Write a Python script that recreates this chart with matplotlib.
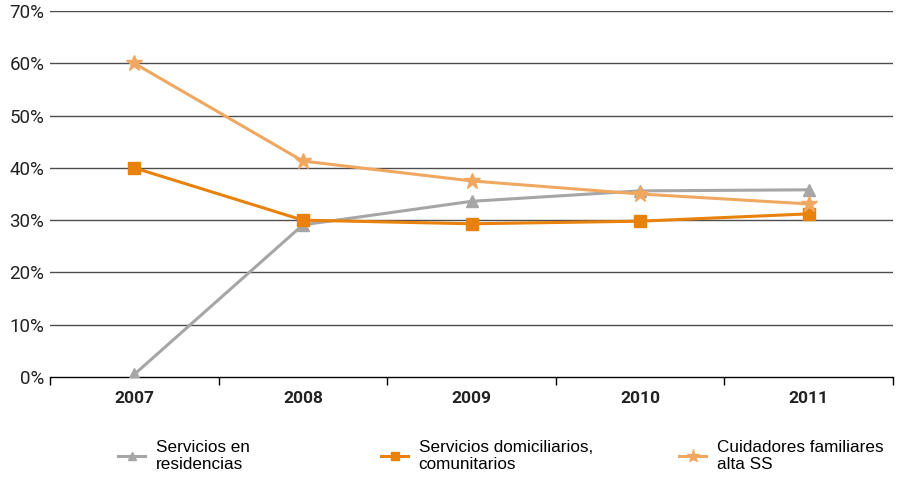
import matplotlib
matplotlib.use("Agg")
import matplotlib.pyplot as plt
from matplotlib.lines import Line2D

plt.rcParams['font.family'] = ['Roboto', 'DejaVu Sans']

years = ['2007', '2008', '2009', '2010', '2011']
residencias = [0.5, 29.1, 33.6, 35.6, 35.8]
domicilarios = [40.0, 30.0, 29.3, 29.8, 31.2]
cuidadores = [60.0, 41.3, 37.5, 35.0, 33.1]

labels = ['Servicios en\nresidencias', 'Servicios domiciliarios,\ncomunitarios',
          'Cuidadores familiares\nalta SS']
colors = ['#a6a6a6', '#e8820c', '#f0a860']
markers = ['^', 's', '*']
msizes = [8, 8, 12]

fig = plt.figure(figsize=(8.99, 4.79), dpi=100)
ax = fig.add_axes([50 / 899, 102 / 479, 843 / 899, 366 / 479])

x = list(range(len(years)))
for vals, c, m, ms in zip([residencias, domicilarios, cuidadores], colors, markers, msizes):
    ax.plot(x, vals, color=c, lw=2.2, marker=m, ms=ms, mec=c, mfc=c, zorder=3)

ax.set_xlim(-0.5, 4.5)
ax.set_ylim(0, 70)
ax.set_yticks(range(0, 71, 10))
ax.set_yticklabels([f'{v}%' for v in range(0, 71, 10)], fontsize=13.5, color='#222222')
for v in range(10, 71, 10):
    ax.axhline(v, color='#4d4d4d', lw=1.0, zorder=1)

ax.set_xticks([i - 0.5 for i in range(6)])
ax.set_xticklabels([])
ax.set_xticks(x, minor=True)
ax.set_xticklabels(years, minor=True, fontsize=12.5, fontweight='bold', color='#222222')
ax.tick_params(axis='x', which='major', length=6, width=1, color='black', direction='out')
ax.tick_params(axis='x', which='minor', length=0, pad=10)
ax.tick_params(axis='y', length=0, pad=4)

for s in ['top', 'right', 'left']:
    ax.spines[s].set_visible(False)
ax.spines['bottom'].set_color('black')
ax.spines['bottom'].set_linewidth(1.0)

xs = [118 / 899, 381 / 899, 679 / 899]
for lab, c, m, ms, xp in zip(labels, colors, markers, msizes, xs):
    h = Line2D([], [], color=c, lw=2.2, marker=m, ms=ms * 0.8, mec=c, mfc=c)
    fig.legend([h], [lab], loc='upper left', bbox_to_anchor=(xp, 39 / 479),
               frameon=False, handlelength=1.6, handletextpad=0.6,
               prop={'family': ['Liberation Sans', 'DejaVu Sans'], 'size': 12.3},
               borderaxespad=0, borderpad=0, labelspacing=0)

fig.savefig('out.png', dpi=100)
